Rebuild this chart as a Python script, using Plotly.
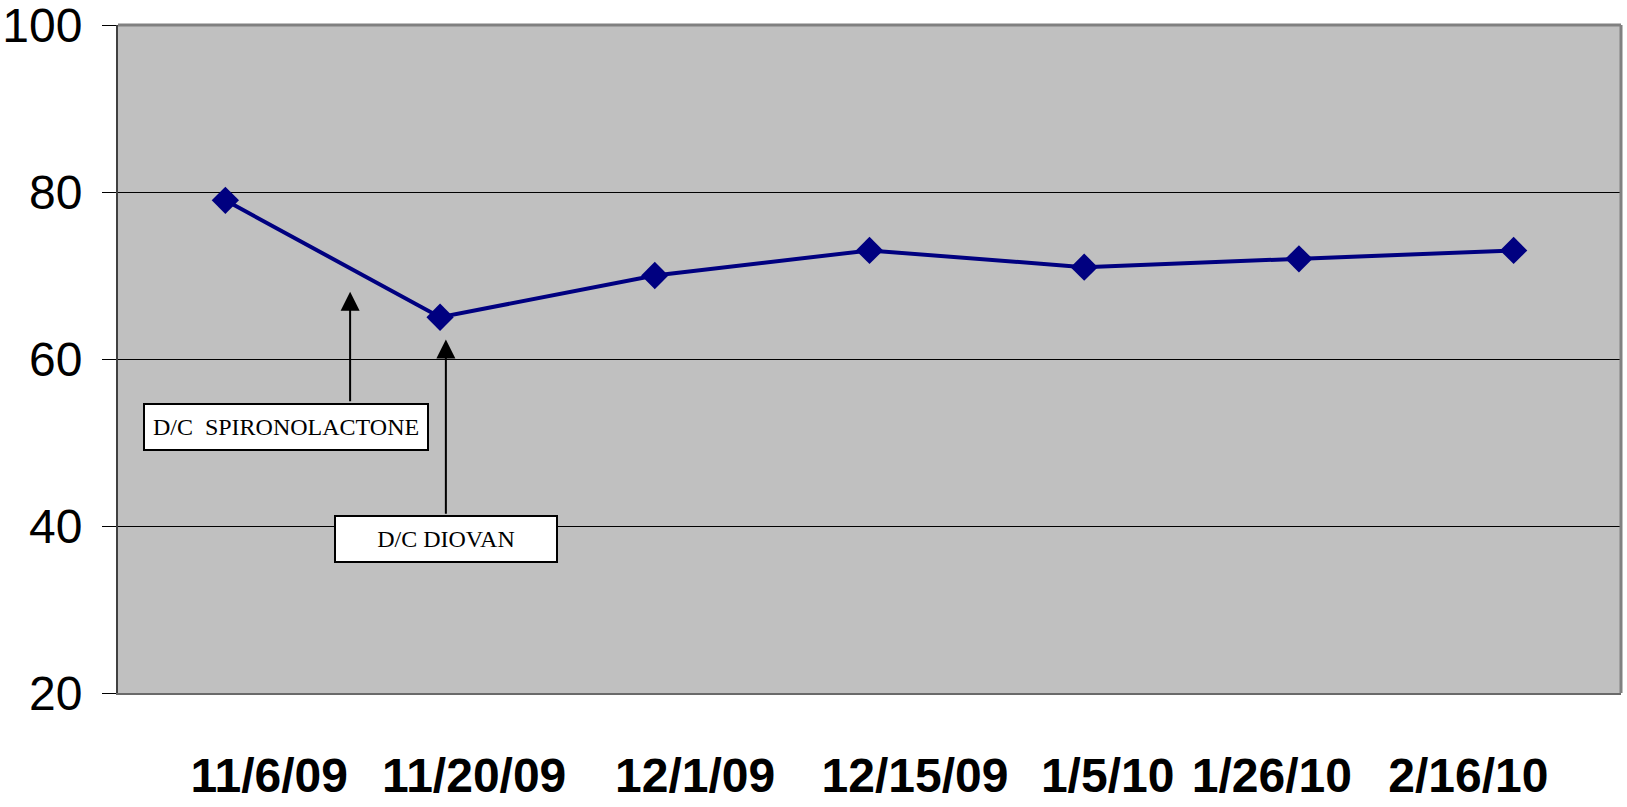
import plotly.graph_objects as go

# ---- data ----
dates = ["11/6/09", "11/20/09", "12/1/09", "12/15/09", "1/5/10", "1/26/10", "2/16/10"]
values = [79, 65, 70, 73, 71, 72, 73]
y_ticks = [20, 40, 60, 80, 100]

# label positions (category index units) as drawn in the reference
label_pos = [0.204, 1.159, 2.188, 3.212, 4.109, 4.874, 5.789]

notes = ["D/C\u00a0 SPIRONOLACTONE", "D/C DIOVAN"]

idx = list(range(len(dates)))

fig = go.Figure()
fig.add_trace(go.Scatter(
    x=idx, y=values, mode="lines+markers",
    line=dict(color="#000080", width=4),
    marker=dict(symbol="diamond", size=21, color="#000080"),
    hoverinfo="skip", showlegend=False,
))

NARROW = "Liberation Sans Narrow, Arial Narrow, Liberation Sans, Arial, sans-serif"

fig.update_layout(
    width=1627, height=807,
    margin=dict(l=118, r=6, t=25, b=114),
    paper_bgcolor="white",
    plot_bgcolor="#C0C0C0",
    showlegend=False,
    xaxis=dict(
        range=[-0.5, 6.5], showgrid=False, zeroline=False,
        tickvals=label_pos, ticktext=dates, ticks="", tickangle=0,
        tickfont=dict(family=NARROW, size=48, color="black", weight="bold"),
        ticklabelstandoff=39, ticklabeloverflow="allow",
        showline=True, linecolor="#6a6a6a", linewidth=2,
        automargin=False, fixedrange=True,
    ),
    yaxis=dict(
        range=[20, 100], tickvals=y_ticks, ticks="outside", ticklen=14,
        tickcolor="black", tickwidth=1,
        tickfont=dict(family=NARROW, size=48, color="black"),
        ticklabelstandoff=10, ticklabeloverflow="allow",
        showgrid=True, gridcolor="black", gridwidth=1, zeroline=False,
        showline=True, linecolor="#404040", linewidth=2,
        automargin=False, fixedrange=True,
    ),
    shapes=[
        dict(type="line", xref="paper", yref="paper", x0=0, x1=1, y0=1, y1=1,
             line=dict(color="#808080", width=3), layer="above"),
        dict(type="line", xref="paper", yref="paper", x0=1, x1=1, y0=0, y1=1,
             line=dict(color="#808080", width=3), layer="above"),
    ],
)

SERIF = "Liberation Serif, Times New Roman, serif"
# text boxes
fig.add_annotation(x=0.282, y=51.85, xref="x", yref="y", text=notes[0], showarrow=False,
                   font=dict(family=SERIF, size=24, color="black"),
                   bgcolor="white", bordercolor="black", borderwidth=2, borderpad=6,
                   width=270, height=32, align="center")
fig.add_annotation(x=1.028, y=38.42, xref="x", yref="y", text=notes[1], showarrow=False,
                   font=dict(family=SERIF, size=24, color="black"),
                   bgcolor="white", bordercolor="black", borderwidth=2, borderpad=6,
                   width=208, height=32, align="center")
# arrows
fig.add_annotation(x=0.581, y=68.05, ax=0.581, ay=54.75, xref="x", yref="y",
                   axref="x", ayref="y", text="", showarrow=True,
                   arrowhead=2, arrowsize=1.9, arrowwidth=2, arrowcolor="black")
fig.add_annotation(x=1.027, y=62.34, ax=1.027, ay=41.3, xref="x", yref="y",
                   axref="x", ayref="y", text="", showarrow=True,
                   arrowhead=2, arrowsize=1.9, arrowwidth=2, arrowcolor="black")

fig.write_html("out.html", config={"displayModeBar": False},
               post_script="document.body.style.margin='0';document.body.style.overflow='hidden';")
